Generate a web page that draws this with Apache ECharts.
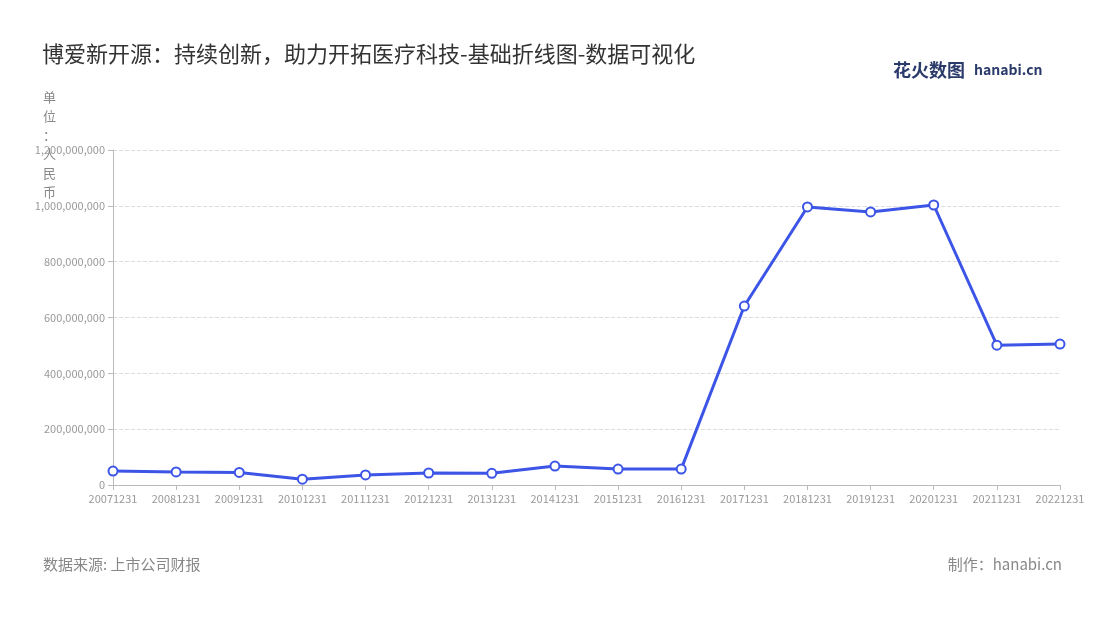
<!DOCTYPE html>
<html><head><meta charset="utf-8">
<script src="https://cdn.jsdelivr.net/npm/echarts@6/dist/echarts.min.js"></script>
<style>html,body{margin:0;padding:0;background:#fff}#c{width:1100px;height:620px}</style>
</head><body><div id="c"></div>
<script>
var categories = ['20071231','20081231','20091231','20101231','20111231','20121231','20131231','20141231','20151231','20161231','20171231','20181231','20191231','20201231','20211231','20221231'];
var values = [50000000,47000000,45000000,21000000,36000000,43000000,42000000,68000000,57000000,57000000,641000000,996000000,978000000,1003000000,501000000,505000000];
var yTicks = [0,200000000,400000000,600000000,800000000,1000000000,1200000000];

var chart = echarts.init(document.getElementById('c'));
var font = '"Noto Sans CJK SC","Noto Sans",sans-serif';
chart.setOption({
    textStyle: {fontFamily: font},
    title: {
        text: '博爱新开源：持续创新，助力开拓医疗科技-基础折线图-数据可视化',
        left: 37, top: 38,
        textStyle: {fontSize: 22, fontWeight: 'normal', color: '#333', fontFamily: font}
    },
    graphic: [
        {type: 'text', left: 43, top: 88, style: {text: '单\n位\n：\n人\n民\n币', fill: '#888', font: '13px ' + font, lineHeight: 19}},
        {type: 'text', left: 43, top: 557, style: {text: '数据来源: 上市公司财报', fill: '#888', font: '15px ' + font}},
        {type: 'text', right: 38, top: 557, style: {text: '制作：hanabi.cn', fill: '#888', font: '15px ' + font}},
        {type: 'text', left: 893, top: 61, style: {text: '花火数图', fill: '#2a3a6a', font: 'bold 18px ' + font}},
        {type: 'text', left: 974, top: 63, style: {text: 'hanabi.cn', fill: '#2a3a6a', font: 'bold 14px ' + font}}
    ],
    grid: {left: 113, right: 40, top: 150, bottom: 135},
    xAxis: {
        type: 'category', data: categories, boundaryGap: false,
        axisLine: {lineStyle: {color: '#bbb'}},
        axisTick: {show: true, lineStyle: {color: '#bbb'}},
        axisLabel: {color: '#999', fontSize: 11, interval: 0}
    },
    yAxis: {
        type: 'value', min: 0, max: yTicks[yTicks.length - 1], interval: 200000000,
        axisLine: {show: true, lineStyle: {color: '#bbb'}},
        axisTick: {show: true, lineStyle: {color: '#bbb'}},
        axisLabel: {color: '#999', fontSize: 11, formatter: function (v) { return v.toLocaleString('en-US'); }},
        splitLine: {lineStyle: {type: 'dashed', color: '#ddd'}}
    },
    series: [{
        type: 'line', data: values,
        symbol: 'circle', symbolSize: 9,
        lineStyle: {color: '#3c55e6', width: 3},
        itemStyle: {color: '#fff', borderColor: '#3c55e6', borderWidth: 2}
    }]
});
</script></body></html>
